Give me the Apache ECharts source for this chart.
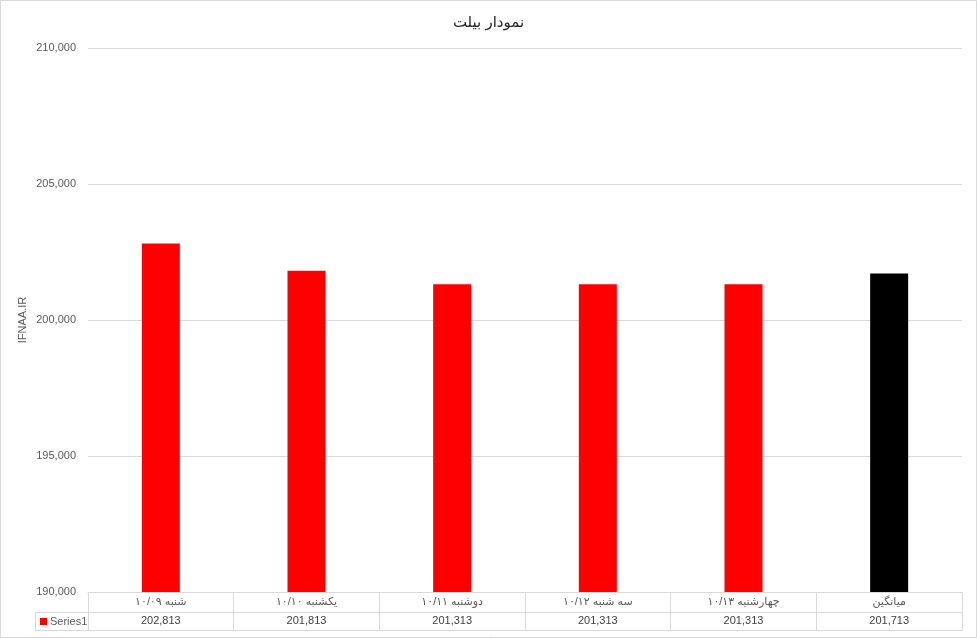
<!DOCTYPE html>
<html>
<head>
<meta charset="utf-8">
<script src="https://cdn.jsdelivr.net/npm/echarts@6/dist/echarts.min.js"></script>
<style>
html,body{margin:0;padding:0;background:#fff;}
#chart{width:977px;height:638px;}
</style>
</head>
<body>
<div id="chart"></div>
<script>
const categories = ['شنبه ۱۰/۰۹', 'یکشنبه ۱۰/۱۰', 'دوشنبه ۱۰/۱۱', 'سه شنبه ۱۰/۱۲', 'چهارشنبه ۱۰/۱۳', 'میانگین'];
const values = [202813, 201813, 201313, 201313, 201313, 201713];
const barColors = ['#ff0000', '#ff0000', '#ff0000', '#ff0000', '#ff0000', '#000000'];
const yTicks = { min: 190000, max: 210000, interval: 5000 };
const titleText = 'نمودار بیلت';
const yName = 'IFNAA.IR';
const seriesName = 'Series1';

const FONT = '"Liberation Sans", "DejaVu Sans", sans-serif';
const fmt = v => v.toLocaleString('en-US');
const gridColor = '#d9d9d9';
const textColor = '#595959';

const chart = echarts.init(document.getElementById('chart'), null, { renderer: 'canvas' });
chart.setOption({
  animation: false,
  backgroundColor: '#ffffff',
  textStyle: { fontFamily: FONT },
  title: {
    text: titleText, left: 'center', top: 10,
    textStyle: { fontSize: 15, fontWeight: 'normal', color: '#262626', fontFamily: FONT }
  },
  legend: {
    data: [seriesName], left: 35, top: 611, icon: 'rect', itemWidth: 7, itemHeight: 7, itemGap: 4,
    textStyle: { fontSize: 11, color: textColor, fontFamily: FONT, padding: [0, 0, 0, -2] }
  },
  grid: { left: 88, right: 15, top: 48, bottom: 46 },
  xAxis: [
    {
      type: 'category', data: categories, position: 'bottom',
      axisLine: { show: true, lineStyle: { color: gridColor } },
      axisTick: { show: true, length: 38, interval: 0, lineStyle: { color: gridColor } },
      axisLabel: { interval: 0, margin: 4, fontSize: 11, color: textColor, fontFamily: FONT }
    },
    {
      type: 'category', data: categories, position: 'bottom', offset: 20,
      axisLine: { show: true, lineStyle: { color: gridColor } },
      axisTick: { show: false },
      axisLabel: { interval: 0, margin: 3, fontSize: 11, color: '#404040', fontFamily: FONT,
        formatter: (v, i) => fmt(values[i]) }
    },
    {
      type: 'category', data: categories, position: 'bottom', offset: 38,
      axisLine: { show: true, lineStyle: { color: gridColor } },
      axisTick: { show: false },
      axisLabel: { show: false }
    }
  ],
  yAxis: {
    type: 'value', min: yTicks.min, max: yTicks.max, interval: yTicks.interval,
    name: yName, nameLocation: 'middle', nameGap: 60, nameRotate: 90, nameMoveOverlap: false,
    nameTextStyle: { fontSize: 11, color: textColor, fontFamily: FONT },
    axisLine: { show: false }, axisTick: { show: false },
    axisLabel: { fontSize: 11, color: textColor, margin: 12, formatter: fmt, fontFamily: FONT },
    splitLine: { lineStyle: { color: gridColor } }
  },
  series: [{
    name: seriesName, type: 'bar', xAxisIndex: 0, barWidth: 38,
    itemStyle: { color: '#ff0000' },
    data: values.map((v, i) => ({ value: v, itemStyle: { color: barColors[i] } }))
  }],
  graphic: [
    { type: 'rect', shape: { x: 0.5, y: 0.5, width: 976, height: 637 }, style: { fill: 'none', stroke: gridColor, lineWidth: 1 }, silent: true },
    { type: 'line', shape: { x1: 35, y1: 612.5, x2: 88, y2: 612.5 }, style: { stroke: gridColor, lineWidth: 1 }, silent: true },
    { type: 'line', shape: { x1: 35, y1: 630.5, x2: 88, y2: 630.5 }, style: { stroke: gridColor, lineWidth: 1 }, silent: true },
    { type: 'line', shape: { x1: 35.5, y1: 612, x2: 35.5, y2: 631 }, style: { stroke: gridColor, lineWidth: 1 }, silent: true }
  ]
});
</script>
</body>
</html>
